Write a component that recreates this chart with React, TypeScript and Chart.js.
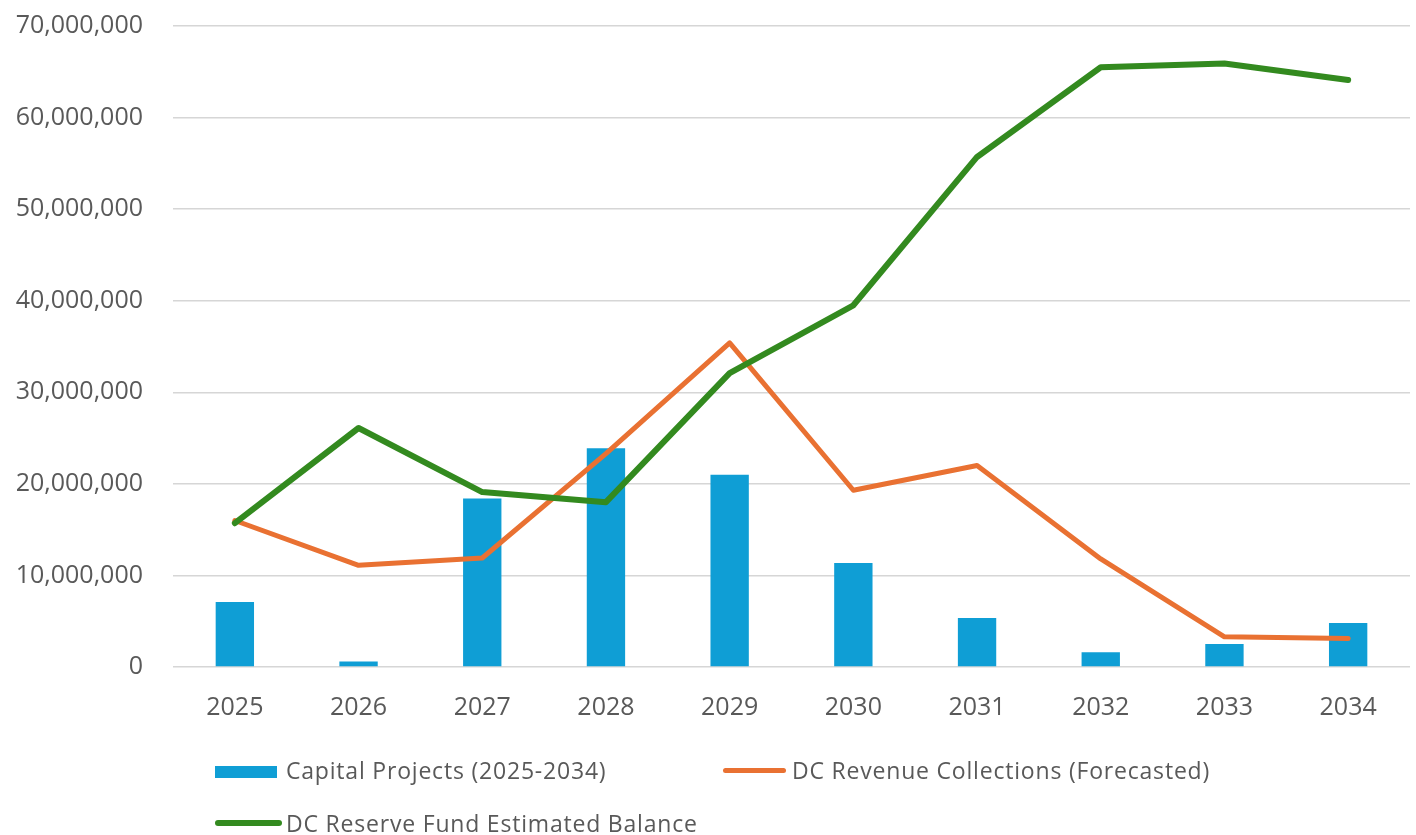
import React, { useEffect, useRef } from "react";
import { Chart, registerables } from "chart.js";

Chart.register(...registerables);

const years = ["2025", "2026", "2027", "2028", "2029", "2030", "2031", "2032", "2033", "2034"];
const capitalProjects = [7100000, 600000, 18400000, 23900000, 21000000, 11350000, 5350000, 1600000, 2500000, 4800000];
const revenueCollections = [16000000, 11100000, 11900000, 23300000, 35400000, 19300000, 22000000, 11800000, 3300000, 3100000];
const reserveBalance = [15700000, 26100000, 19100000, 18000000, 32100000, 39500000, 55700000, 65500000, 65900000, 64100000];

const seriesNames = [
  "Capital Projects (2025-2034)",
  "DC Revenue Collections (Forecasted)",
  "DC Reserve Fund Estimated Balance",
];

const BLUE = "#0F9ED5";
const ORANGE = "#E97132";
const GREEN = "#338A1F";
const TEXT = "#595959";
const FONT = "'Open Sans', 'Liberation Sans', sans-serif";

export default function App() {
  const ref = useRef<HTMLCanvasElement | null>(null);

  useEffect(() => {
    if (!ref.current) return;
    const chart = new Chart(ref.current, {
      type: "bar",
      data: {
        labels: years,
        datasets: [
          {
            type: "line",
            label: seriesNames[2],
            data: reserveBalance,
            borderColor: GREEN,
            backgroundColor: GREEN,
            borderWidth: 6,
            pointRadius: 0,
            tension: 0,
            borderJoinStyle: "round",
            borderCapStyle: "round",
            order: 0,
          } as any,
          {
            type: "line",
            label: seriesNames[1],
            data: revenueCollections,
            borderColor: ORANGE,
            backgroundColor: ORANGE,
            borderWidth: 5,
            pointRadius: 0,
            tension: 0,
            borderJoinStyle: "round",
            borderCapStyle: "round",
            order: 1,
          } as any,
          {
            type: "bar",
            label: seriesNames[0],
            data: capitalProjects,
            backgroundColor: BLUE,
            categoryPercentage: 1,
            barPercentage: 0.31,
            order: 2,
          } as any,
        ],
      },
      options: {
        animation: false,
        responsive: false,
        devicePixelRatio: 1,
        layout: { padding: { left: 0, right: 6, top: 26, bottom: 108 } },
        plugins: {
          legend: { display: false },
          tooltip: { enabled: false },
        },
        scales: {
          x: {
            grid: { display: false, drawTicks: false },
            border: { display: false },
            ticks: { color: TEXT, font: { family: FONT, size: 25 }, padding: 26 },
            afterFit: (s: any) => {
              s.height = 60;
            },
          },
          y: {
            min: 0,
            max: 70000000,
            grid: { color: "#d6d6d6", lineWidth: 1.5, drawTicks: false },
            border: { display: false },
            ticks: {
              stepSize: 10000000,
              color: TEXT,
              font: { family: FONT, size: 25 },
              padding: 30,
              callback: (v: any) => Number(v).toLocaleString("en-US"),
            },
            afterFit: (s: any) => {
              s.width = 173;
              s.paddingTop = 0;
              s.paddingBottom = 0;
            },
          },
        },
      },
    });
    return () => chart.destroy();
  }, []);

  const legendText: React.CSSProperties = {
    position: "absolute",
    fontFamily: FONT,
    fontSize: 23,
    letterSpacing: "0.8px",
    color: TEXT,
    lineHeight: "30px",
    whiteSpace: "nowrap",
  };

  return (
    <div style={{ position: "absolute", left: 0, top: 0, width: 1416, height: 835, background: "#fff", overflow: "hidden" }}>
      <canvas ref={ref} width={1416} height={835} style={{ width: 1416, height: 835, display: "block" }} />
      <div style={{ position: "absolute", left: 215, top: 766, width: 62, height: 12, background: BLUE }} />
      <div style={{ ...legendText, left: 286, top: 755 }}>{seriesNames[0]}</div>
      <div style={{ position: "absolute", left: 723, top: 768, width: 63, height: 5, background: ORANGE, borderRadius: 3 }} />
      <div style={{ ...legendText, left: 792, top: 755 }}>{seriesNames[1]}</div>
      <div style={{ position: "absolute", left: 215, top: 820, width: 67, height: 6, background: GREEN, borderRadius: 3 }} />
      <div style={{ ...legendText, left: 286, top: 808 }}>{seriesNames[2]}</div>
    </div>
  );
}
